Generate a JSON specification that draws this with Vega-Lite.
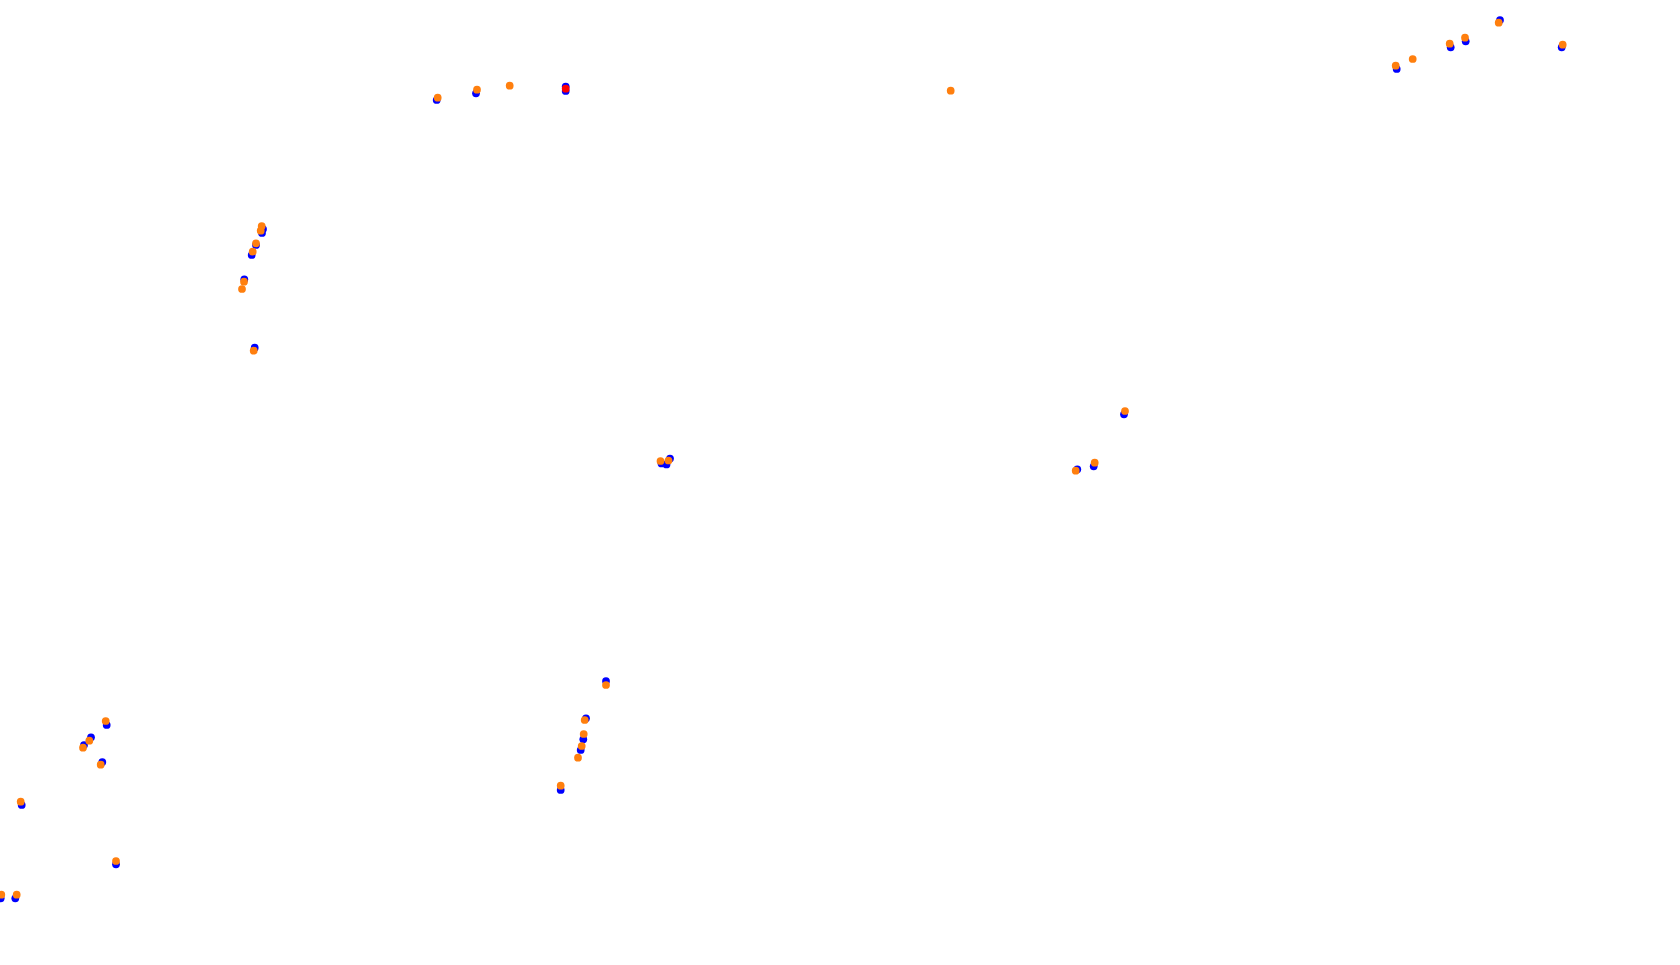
{
  "$schema": "https://vega.github.io/schema/vega-lite/v6.json",
  "width": 1680,
  "height": 965,
  "autosize": {"type": "none"},
  "padding": 0,
  "background": "white",
  "config": {"view": {"stroke": null}},
  "data": {"values": [
    {"x": 436.7, "y": 100, "s": "blue"},
    {"x": 476, "y": 93.3, "s": "blue"},
    {"x": 565.7, "y": 86.5, "s": "blue"},
    {"x": 565.7, "y": 91, "s": "blue"},
    {"x": 262, "y": 233, "s": "blue"},
    {"x": 263, "y": 229, "s": "blue"},
    {"x": 256, "y": 245, "s": "blue"},
    {"x": 251.7, "y": 255, "s": "blue"},
    {"x": 244.3, "y": 279.3, "s": "blue"},
    {"x": 254.7, "y": 347.7, "s": "blue"},
    {"x": 661.5, "y": 463.5, "s": "blue"},
    {"x": 666.5, "y": 464.5, "s": "blue"},
    {"x": 670, "y": 458.5, "s": "blue"},
    {"x": 106.7, "y": 725, "s": "blue"},
    {"x": 91, "y": 737.3, "s": "blue"},
    {"x": 84, "y": 745, "s": "blue"},
    {"x": 102.3, "y": 762, "s": "blue"},
    {"x": 21.7, "y": 805, "s": "blue"},
    {"x": 116, "y": 864.3, "s": "blue"},
    {"x": 15.3, "y": 898.3, "s": "blue"},
    {"x": 0.7, "y": 898.3, "s": "blue"},
    {"x": 606, "y": 681, "s": "blue"},
    {"x": 586, "y": 718.3, "s": "blue"},
    {"x": 583.3, "y": 739.3, "s": "blue"},
    {"x": 580.7, "y": 750, "s": "blue"},
    {"x": 560.7, "y": 790, "s": "blue"},
    {"x": 1396.7, "y": 69, "s": "blue"},
    {"x": 1450.7, "y": 47.3, "s": "blue"},
    {"x": 1465.7, "y": 41.3, "s": "blue"},
    {"x": 1500, "y": 20, "s": "blue"},
    {"x": 1561.7, "y": 47.3, "s": "blue"},
    {"x": 1124, "y": 414.3, "s": "blue"},
    {"x": 1093.7, "y": 466.3, "s": "blue"},
    {"x": 1077.3, "y": 469.3, "s": "blue"},
    {"x": 437.7, "y": 97.7, "s": "orange"},
    {"x": 477, "y": 89.7, "s": "orange"},
    {"x": 509.7, "y": 85.7, "s": "orange"},
    {"x": 261.7, "y": 226, "s": "orange"},
    {"x": 260.7, "y": 230.7, "s": "orange"},
    {"x": 256, "y": 243.3, "s": "orange"},
    {"x": 252.7, "y": 251.7, "s": "orange"},
    {"x": 244, "y": 281.7, "s": "orange"},
    {"x": 242, "y": 289, "s": "orange"},
    {"x": 253.7, "y": 350.7, "s": "orange"},
    {"x": 660.5, "y": 461, "s": "orange"},
    {"x": 668.5, "y": 460.5, "s": "orange"},
    {"x": 105.7, "y": 721, "s": "orange"},
    {"x": 89.3, "y": 740.7, "s": "orange"},
    {"x": 83, "y": 747.7, "s": "orange"},
    {"x": 100.7, "y": 764.7, "s": "orange"},
    {"x": 20.7, "y": 801.7, "s": "orange"},
    {"x": 116, "y": 861, "s": "orange"},
    {"x": 16.7, "y": 894.7, "s": "orange"},
    {"x": 1.3, "y": 894.7, "s": "orange"},
    {"x": 606, "y": 685, "s": "orange"},
    {"x": 584.7, "y": 720, "s": "orange"},
    {"x": 583.7, "y": 734, "s": "orange"},
    {"x": 581.7, "y": 746, "s": "orange"},
    {"x": 578, "y": 757.7, "s": "orange"},
    {"x": 560.7, "y": 785.7, "s": "orange"},
    {"x": 1395.7, "y": 65.7, "s": "orange"},
    {"x": 1412.7, "y": 59, "s": "orange"},
    {"x": 1449.7, "y": 43.7, "s": "orange"},
    {"x": 1465, "y": 37.7, "s": "orange"},
    {"x": 1498.7, "y": 22.7, "s": "orange"},
    {"x": 1562.7, "y": 44.7, "s": "orange"},
    {"x": 1125, "y": 411, "s": "orange"},
    {"x": 1094.7, "y": 462.7, "s": "orange"},
    {"x": 1075.7, "y": 470.7, "s": "orange"},
    {"x": 950.7, "y": 90.7, "s": "orange"},
    {"x": 565.7, "y": 88.7, "s": "red"}
  ]},
  "mark": {"type": "circle", "size": 60, "opacity": 1},
  "encoding": {
    "x": {"field": "x", "type": "quantitative", "axis": null, "scale": {"domain": [0, 1680], "nice": false, "zero": false}},
    "y": {"field": "y", "type": "quantitative", "axis": null, "scale": {"domain": [965, 0], "nice": false, "zero": false}},
    "color": {"field": "s", "type": "nominal", "legend": null, "scale": {"domain": ["blue", "orange", "red"], "range": ["#0000ff", "#ff7f0e", "#ff0000"]}}
  }
}
